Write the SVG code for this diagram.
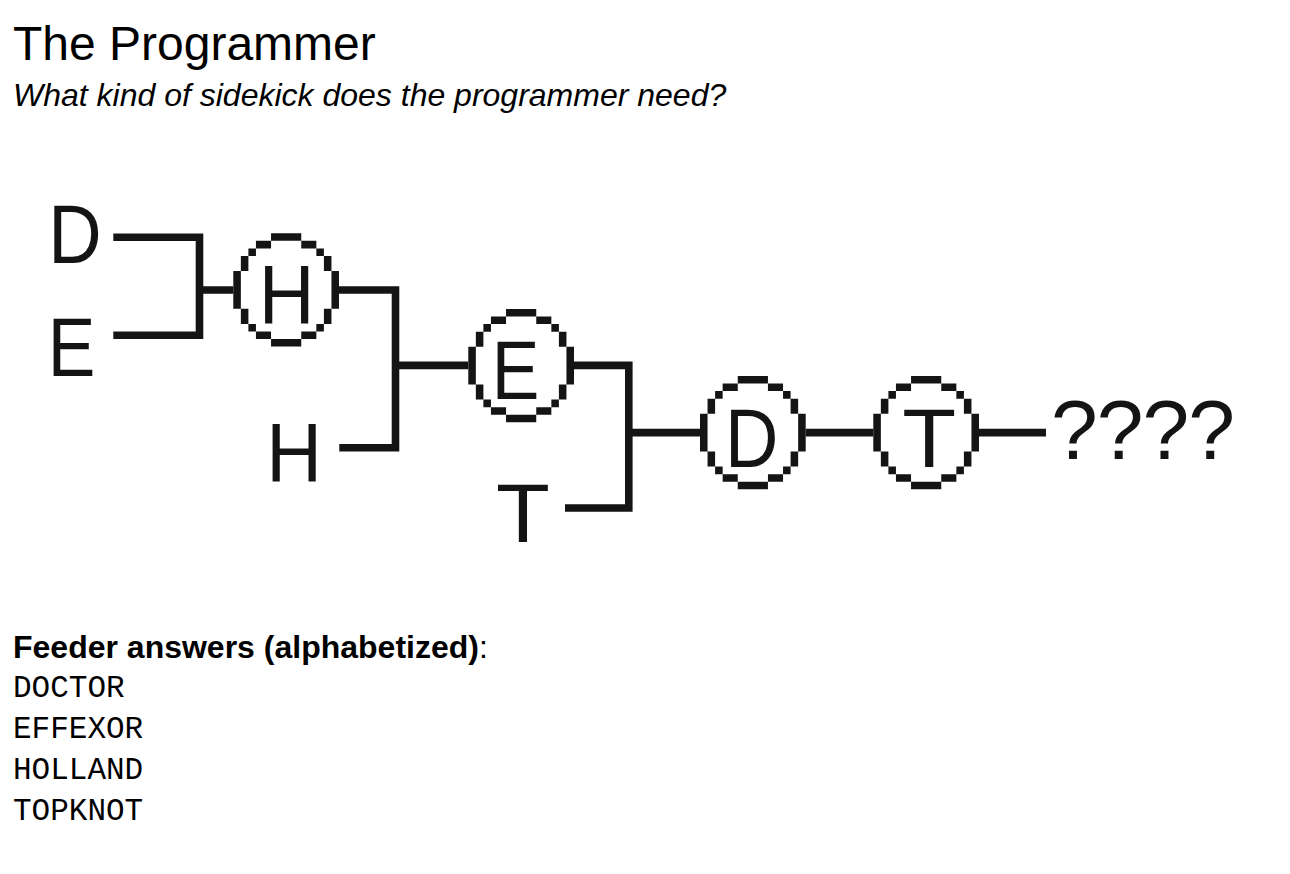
<svg xmlns="http://www.w3.org/2000/svg" xmlns:xlink="http://www.w3.org/1999/xlink" width="1290" height="874" viewBox="0 0 1290 874">
  <style>
    .title { font-family: "Liberation Sans", Arial, sans-serif; font-size: 48px; fill: #000; }
    .sub { font-family: "Liberation Sans", Arial, sans-serif; font-size: 32px; font-style: italic; fill: #000; }
    .hdr { font-family: "Liberation Sans", Arial, sans-serif; font-size: 32px; fill: #000; }
    .mono { font-family: "Liberation Mono", "Courier New", monospace; font-size: 31px; fill: #000; }
    .big { font-family: "Liberation Sans", Arial, sans-serif; font-size: 84px; fill: #141414; text-anchor: middle; }
    .wire { fill: none; stroke: #141414; stroke-width: 7.6; stroke-linecap: butt; stroke-linejoin: miter; }
    .ring { fill: #141414; }
  </style>
  <defs>
    <path id="ring" d="M5,0h4v1h-4z M3,1h2v1h-2z M9,1h2v1h-2z M2,2h1v1h-1z M11,2h1v1h-1z M1,3h1v2h-1z M12,3h1v2h-1z M0,5h1v5h-1z M13,5h1v5h-1z M1,10h1v2h-1z M12,10h1v2h-1z M2,12h1v1h-1z M11,12h1v1h-1z M3,13h2v1h-2z M9,13h2v1h-2z M5,14h4v1h-4z"/>
  </defs>
  <rect width="1290" height="874" fill="#fff"/>

  <g id="header">
    <text class="title" x="13" y="60">The Programmer</text>
    <text class="sub" x="13" y="106">What kind of sidekick does the programmer need?</text>
  </g>

  <g id="connectors">
    <path class="wire" d="M113.3,237.2 H199.5 V335.3 H113.3"/>
    <path class="wire" d="M199.5,290 H233.3"/>
    <path class="wire" d="M339,290 H395.5 V447.8 H339.3"/>
    <path class="wire" d="M395.5,365.4 H468.3"/>
    <path class="wire" d="M574,365.4 H628.8 V508 H565"/>
    <path class="wire" d="M628.8,432.6 H700"/>
    <path class="wire" d="M805.7,432.6 H873.3"/>
    <path class="wire" d="M979,432.6 H1046"/>
  </g>

  <g id="feeder-D"><text class="big" transform="translate(75,263.3) scale(0.88,1)">D</text></g>
  <g id="feeder-E"><text class="big" transform="translate(71.5,376) scale(0.85,1)">E</text></g>
  <g id="feeder-H"><text class="big" transform="translate(294.2,481.7) scale(0.92,1)">H</text></g>
  <g id="feeder-T"><text class="big" transform="translate(523,541.7) scale(1.05,1)">T</text></g>

  <g id="node-H">
    <use xlink:href="#ring" class="ring" transform="translate(233.3,233.3) scale(7.55)"/>
    <text class="big" transform="translate(286.6,324) scale(0.92,1)">H</text>
  </g>
  <g id="node-E">
    <use xlink:href="#ring" class="ring" transform="translate(468.3,309) scale(7.55)"/>
    <text class="big" transform="translate(515.5,399) scale(0.85,1)">E</text>
  </g>
  <g id="node-D">
    <use xlink:href="#ring" class="ring" transform="translate(700,376) scale(7.55)"/>
    <text class="big" transform="translate(751.8,466.7) scale(0.88,1)">D</text>
  </g>
  <g id="node-T">
    <use xlink:href="#ring" class="ring" transform="translate(873.3,376) scale(7.55)"/>
    <text class="big" transform="translate(929.2,466.7) scale(1.05,1)">T</text>
  </g>
  <g id="result">
    <text class="big" x="1143" y="459" textLength="184" lengthAdjust="spacing">????</text>
  </g>

  <g id="feeders">
    <text class="hdr" x="13" y="658"><tspan font-weight="bold">Feeder answers (alphabetized)</tspan>:</text>
    <text class="mono" x="13" y="696.5">DOCTOR</text>
    <text class="mono" x="13" y="737.5">EFFEXOR</text>
    <text class="mono" x="13" y="778.5">HOLLAND</text>
    <text class="mono" x="13" y="819.5">TOPKNOT</text>
  </g>
</svg>
